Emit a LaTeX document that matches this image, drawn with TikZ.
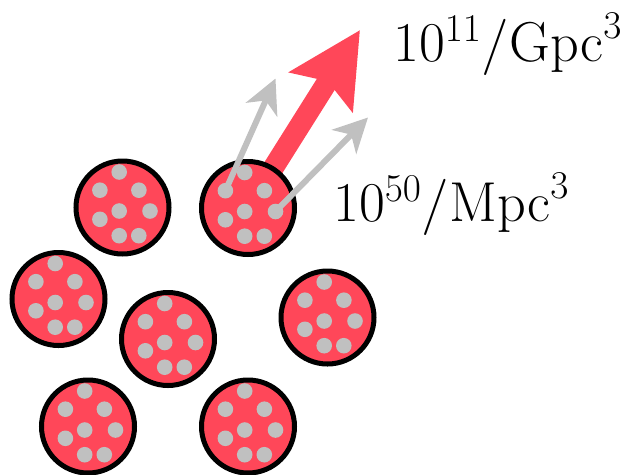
\RequirePackage{fix-cm}
\documentclass[tikz,border=0pt]{standalone}
\usepackage{tikz}
\usetikzlibrary{calc,arrows.meta}

\definecolor{blobred}{RGB}{255,71,89}
\definecolor{dotgrey}{RGB}{192,192,192}

\begin{document}
\begin{tikzpicture}[x=0.02cm,y=-0.02cm]

% Parameters
\def\R{46.5}
\def\r{7.8}

\useasboundingbox (0,0) rectangle (638,474);

% Centres of the blobs
\coordinate (C1) at (122.5,207.5);
\coordinate (C2) at (248,208);
\coordinate (C3) at (58.5,299);
\coordinate (C4) at (168,339);
\coordinate (C5) at (327.5,317.5);
\coordinate (C6) at (88,426.5);
\coordinate (C7) at (248,426.5);

% Arrow tips
\coordinate (T) at (360,30);
\coordinate (T1) at (275.5,78.5);
\coordinate (T2) at (368,117.5);

% Big arrow (behind)
\draw[blobred, line width=0.42cm, -{Stealth[length=1.45cm, width=1.46cm, inset=0.24cm]}] (C2) -- (T);

% Blobs with dots
\foreach \c in {C1,C2,C3,C4,C5,C6,C7} {
  \filldraw[fill=blobred, draw=black, line width=0.1cm] (\c) circle (\R);
  \foreach \dx/\dy in {-3.3/-35.5, -22.6/-17.3, 16.4/-17.3, -3.3/3.5, 27.5/3.5, -22.6/11.8, -3.3/28.2, 16.3/28.2}
    \fill[dotgrey] ($(\c)+(\dx,\dy)$) circle (\r);
}

% Small arrows
\coordinate (D1) at ($(C2)+(-22.6,-17.3)$);
\coordinate (D2) at ($(C2)+(27.5,3.5)$);
\draw[dotgrey, line width=0.12cm, -{Stealth[length=0.68cm, width=0.68cm, inset=0.2cm]}] (D1) -- (T1);
\draw[dotgrey, line width=0.12cm, -{Stealth[length=0.68cm, width=0.68cm, inset=0.2cm]}] (D2) -- (T2);

% Labels
\node[anchor=base west, inner sep=0, font=\fontsize{32}{38}\selectfont] (big) at (393,61.7) {$10^{11}/\mathrm{Gpc}^3$};
\node[anchor=base west, inner sep=0, font=\fontsize{32}{38}\selectfont] (small) at (333,221.7) {$10^{50}/\mathrm{Mpc}^3$};

\end{tikzpicture}
\end{document}
